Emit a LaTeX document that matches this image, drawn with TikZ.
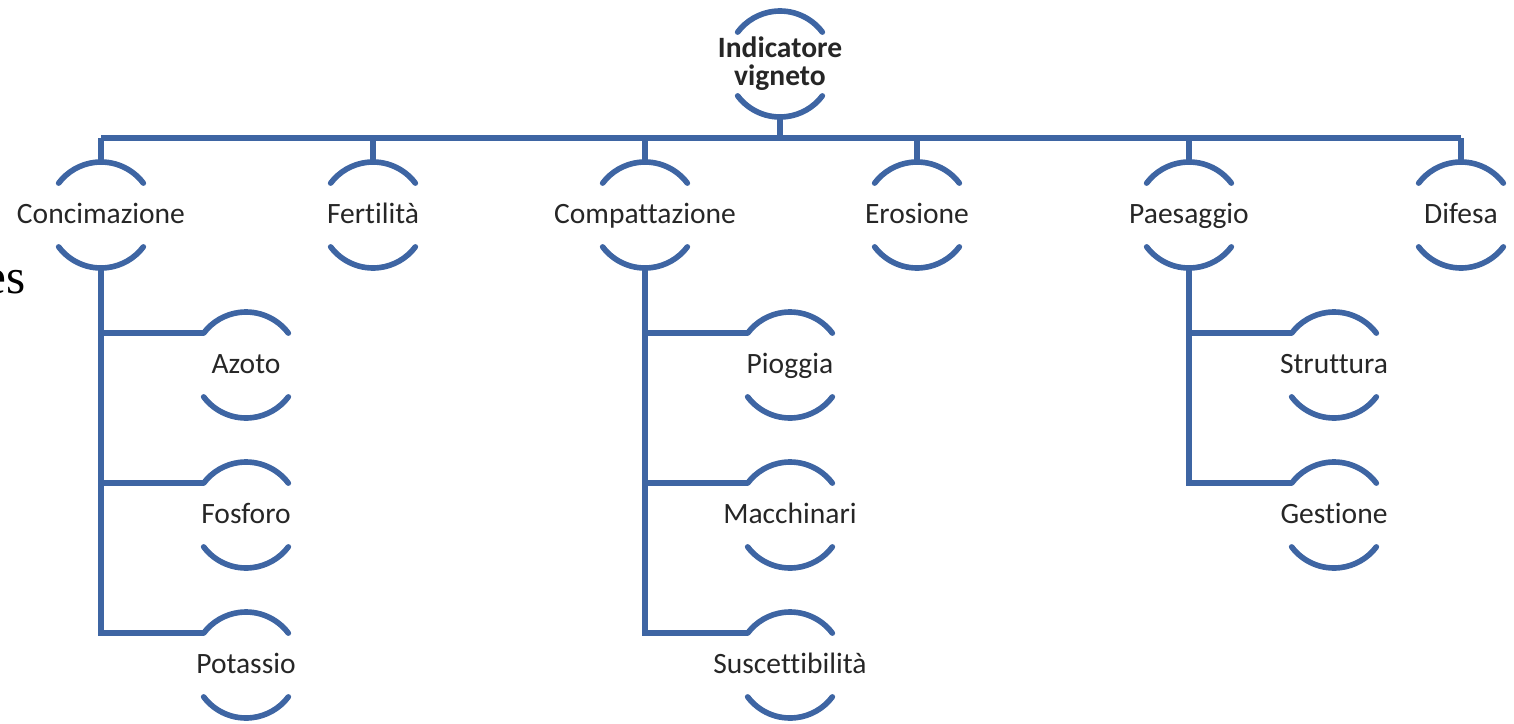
\documentclass[tikz,border=0pt]{standalone}
\usepackage{fontspec}
\setmainfont{Carlito}[Ligatures=NoCommon]
\newfontfamily\cutserif{Liberation Serif}
\usetikzlibrary{positioning, calc}
\definecolor{smartblue}{RGB}{62,101,163}
\tikzstyle{item} = [rectangle, inner sep=0pt, align=center, text height=0.95em, text depth=0pt, text=black!85, font=\fontsize{16.8}{16}\selectfont]
\tikzstyle{rootitem} = [rectangle, inner sep=0pt, align=center, text=black!85, font=\fontsize{16.8}{16}\selectfont\bfseries]
\tikzstyle{line} = [draw=smartblue, line width=3.2pt]
\tikzstyle{bracket} = [draw=smartblue, line width=3.2pt, line cap=round]

\begin{document}
\begin{tikzpicture}
\useasboundingbox (0,0) rectangle (30.28,-14.46);

% Root
\node[rootitem] (root) at (15.6,-1.28) {Indicatore\\vigneto};

% First level
\node[item] (conc) at (2.02,-4.3) {Concimazione};
\node[item, right=5.44cm of conc.center, anchor=center] (fert) {Fertilità};
\node[item, right=5.44cm of fert.center, anchor=center] (comp) {Compattazione};
\node[item, right=5.44cm of comp.center, anchor=center] (eros) {Erosione};
\node[item, right=5.44cm of eros.center, anchor=center] (paes) {Paesaggio};
\node[item, right=5.44cm of paes.center, anchor=center] (dife) {Difesa};

% Children of Concimazione
\node[item, below=3cm of conc.center, xshift=2.9cm, anchor=center] (azoto) {Azoto};
\node[item, below=3cm of azoto.center, anchor=center] (fosforo) {Fosforo};
\node[item, below=3cm of fosforo.center, anchor=center] (potassio) {Potassio};

% Children of Compattazione
\node[item, below=3cm of comp.center, xshift=2.9cm, anchor=center] (pioggia) {Pioggia};
\node[item, below=3cm of pioggia.center, anchor=center] (macchinari) {Macchinari};
\node[item, below=3cm of macchinari.center, anchor=center] (suscett) {Suscettibilità};

% Children of Paesaggio
\node[item, below=3cm of paes.center, xshift=2.9cm, anchor=center] (struttura) {Struttura};
\node[item, below=3cm of struttura.center, anchor=center] (gestione) {Gestione};

% Cut-off text at the left edge
\node[anchor=base east, inner sep=0pt, font=\cutserif\fontsize{28}{28}\selectfont] (cut) at (0.52,-5.86) {es};

% Arcs above and below every label
\foreach \n in {root,conc,fert,comp,eros,paes,dife,azoto,fosforo,potassio,pioggia,macchinari,suscett,struttura,gestione} {
  \coordinate (\n-top) at ([yshift=1.06cm]\n.center);
  \coordinate (\n-bot) at ([yshift=-1.06cm]\n.center);
  \coordinate (\n-in) at ([shift={(143:1.06cm)}]\n.center);
  \draw[bracket] ([shift={(37:1.06cm)}]\n.center) arc (37:143:1.06cm);
  \draw[bracket] ([shift={(217:1.06cm)}]\n.center) arc (217:323:1.06cm);
}

% Bus from root to first level
\coordinate (bus) at ($(root-bot)+(0,-0.42)$);
\draw[line] (root-bot) -- (bus);
\draw[line] (conc-top |- bus) -- (dife-top |- bus);
\foreach \n in {conc,fert,comp,eros,paes,dife}
  \draw[line] (\n-top) -- (\n-top |- bus);

% Branches to the children
\foreach \p/\c in {conc/azoto, conc/fosforo, conc/potassio, comp/pioggia, comp/macchinari, comp/suscett, paes/struttura, paes/gestione}
  \draw[line] (\p-bot) |- (\c-in);

\end{tikzpicture}
\end{document}
